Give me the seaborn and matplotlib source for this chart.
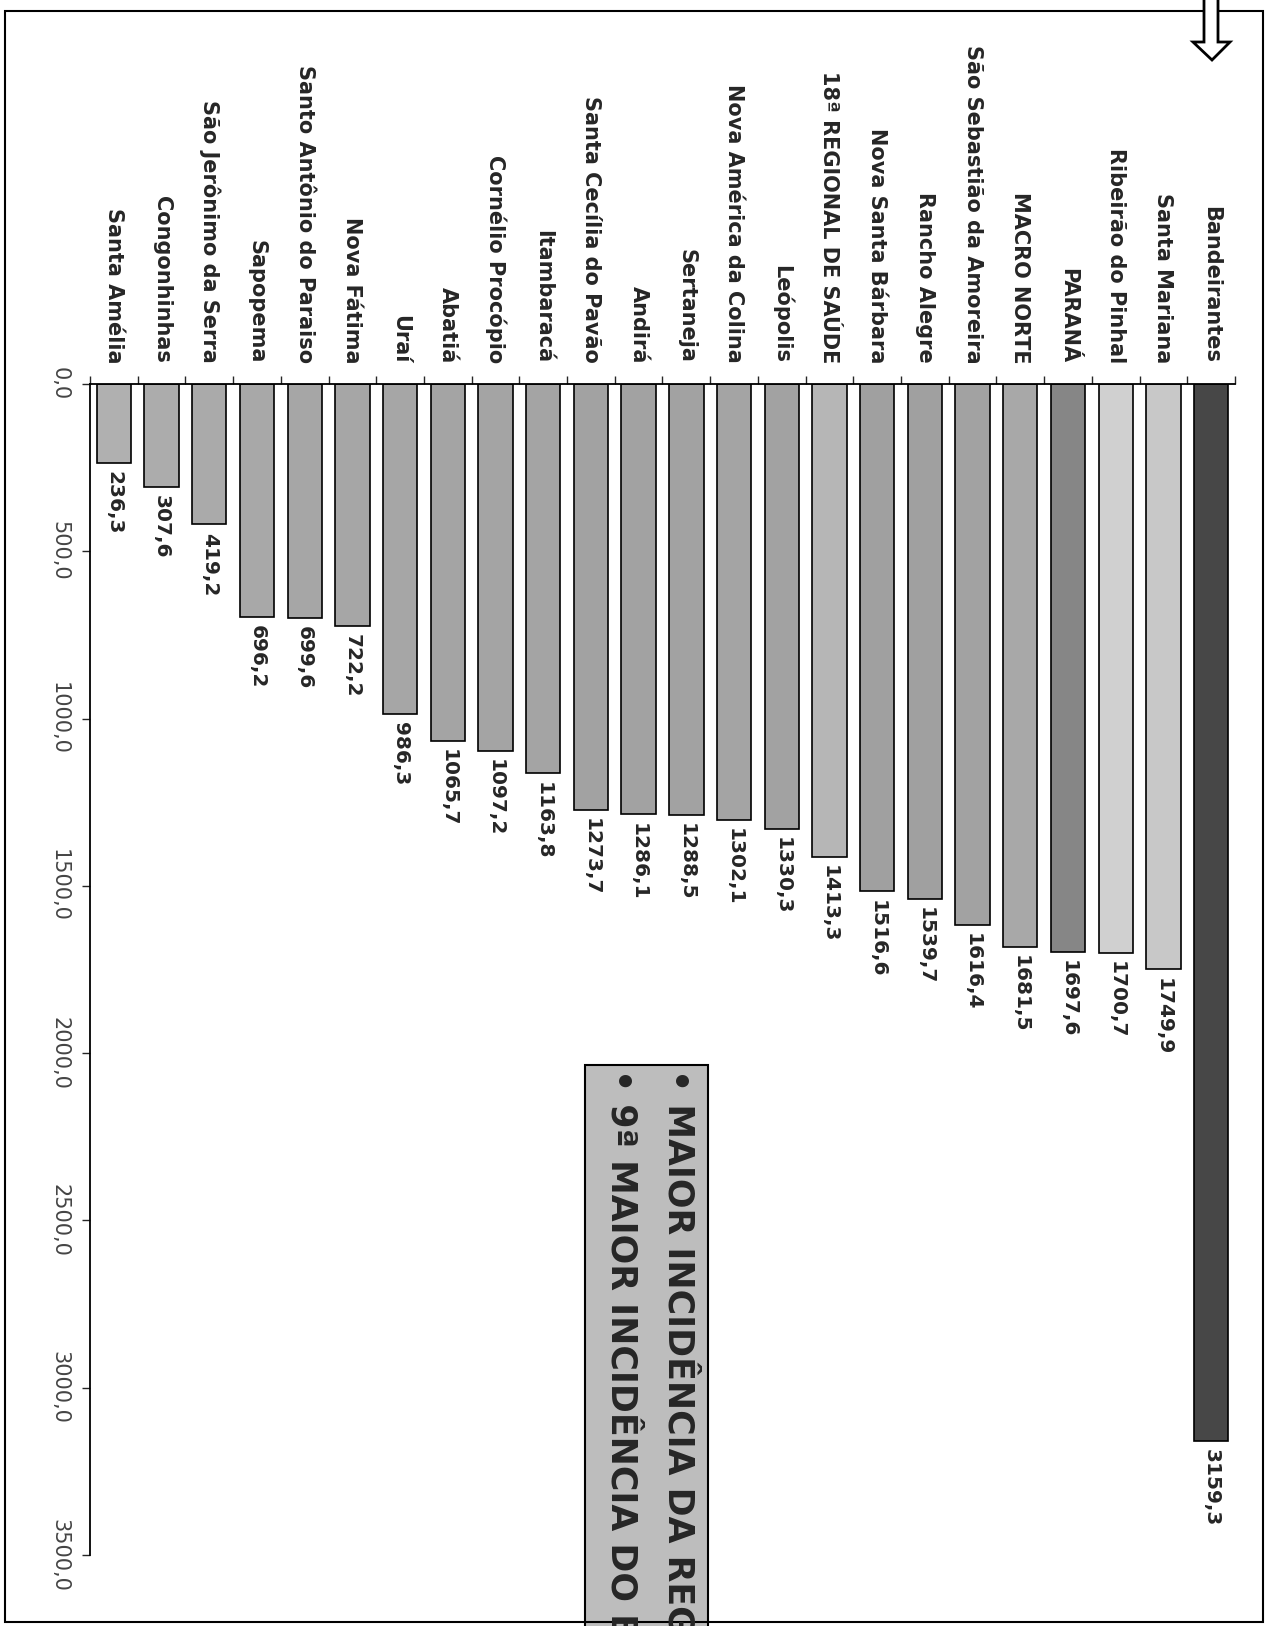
import numpy as np
import matplotlib
matplotlib.use("Agg")
import matplotlib.pyplot as plt
import matplotlib.patches as mpatches
from matplotlib.transforms import Affine2D
import seaborn as sns

sns.set_style("white")
plt.rcParams['font.family'] = ['DejaVu Sans']

# Data
municipios = ["Santa Amélia", "Congonhinhas", "São Jerônimo da Serra", "Sapopema",
              "Santo Antônio do Paraiso", "Nova Fátima", "Uraí", "Abatiá",
              "Cornélio Procópio", "Itambaracá", "Santa Cecília do Pavão", "Andirá",
              "Sertaneja", "Nova América da Colina", "Leópolis", "18ª REGIONAL DE SAÚDE",
              "Nova Santa Bárbara", "Rancho Alegre", "São Sebastião da Amoreira",
              "MACRO NORTE", "PARANÁ", "Ribeirão do Pinhal", "Santa Mariana", "Bandeirantes"]
incidencia = [236.3, 307.6, 419.2, 696.2, 699.6, 722.2, 986.3, 1065.7, 1097.2, 1163.8,
              1273.7, 1286.1, 1288.5, 1302.1, 1330.3, 1413.3, 1516.6, 1539.7, 1616.4,
              1681.5, 1697.6, 1700.7, 1749.9, 3159.3]
cores = ["#b0b0b0", "#acacac", "#aaaaaa", "#a8a8a8", "#a6a6a6", "#a6a6a6", "#a6a6a6", "#a4a4a4",
         "#a4a4a4", "#a4a4a4", "#a2a2a2", "#a2a2a2", "#a2a2a2", "#a4a4a4", "#a2a2a2", "#b6b6b6",
         "#a0a0a0", "#a0a0a0", "#a2a2a2", "#a8a8a8", "#868686", "#d0d0d0", "#c8c8c8", "#474747"]
valores_eixo = [0, 500, 1000, 1500, 2000, 2500, 3000, 3500]
destaque = ["• MAIOR INCIDÊNCIA DA REGIÃO", "• 9ª MAIOR INCIDÊNCIA DO ESTADO"]

W, H = 1267, 1626
fig = plt.figure(figsize=(W / 100, H / 100), dpi=100)
px = Affine2D().scale(1 / W, -1 / H).translate(0, 1) + fig.transFigure

# the chart is drawn turned a quarter turn: bars hang down from the top axis
ax = fig.add_axes([90 / W, 1 - 1555 / H, 1145 / W, (1555 - 384) / H])
sns.barplot(x=municipios, y=incidencia, hue=municipios, palette=cores, legend=False,
            width=0.72, edgecolor="black", linewidth=1.2, saturation=1, ax=ax)
ax.set_xlim(-0.5, len(municipios) - 0.5)
ax.set_ylim(3500, 0)
ax.set_xlabel("")
ax.set_ylabel("")

for s in ["right", "bottom"]:
    ax.spines[s].set_visible(False)
for s in ["top", "left"]:
    ax.spines[s].set_color("black")
    ax.spines[s].set_linewidth(1.3)

# category axis on top
ax.xaxis.tick_top()
ax.set_xticks(range(len(municipios)))
ax.set_xticklabels(municipios, rotation=-90, fontsize=15, fontweight="bold")
ax.set_xticks(np.arange(-0.5, len(municipios)), minor=True)
ax.tick_params(axis="x", which="major", length=0, pad=15)
ax.tick_params(axis="x", which="minor", length=6, width=1, direction="out", top=True, bottom=False)

# value axis
ax.set_yticks(valores_eixo)
ax.set_yticklabels([f"{v:.1f}".replace(".", ",") for v in valores_eixo],
                   rotation=-90, va="center", fontsize=15, color="#444444")
ax.tick_params(axis="y", length=6, width=1, direction="out", left=True, pad=9)

# value labels at the bar ends
for i, v in enumerate(incidencia):
    ax.annotate(f"{v:.1f}".replace(".", ","), (i, v), xytext=(0, -6),
                textcoords="offset points", rotation=-90, ha="center", va="top",
                fontsize=14.5, fontweight="bold")

# highlight box (cut off at the bottom of the page, as in the original)
fig.add_artist(mpatches.Rectangle((585, 1065), 123, 600, transform=px,
                                  facecolor="#bdbdbd", edgecolor="black", linewidth=1.5))
fig.text(678 / W, 1 - 1069 / H, destaque[0], rotation=-90, ha="center", va="top",
         fontsize=25, fontweight="bold")
fig.text(621 / W, 1 - 1069 / H, destaque[1], rotation=-90, ha="center", va="top",
         fontsize=25, fontweight="bold")

# page frame and the arrow at the top right
fig.add_artist(mpatches.Rectangle((5, 11), 1258, 1611, transform=px,
                                  facecolor="none", edgecolor="black", linewidth=1.5))
seta = [(1204, -5), (1218, -5), (1218, 42), (1230, 42), (1212, 60), (1193, 42), (1204, 42)]
fig.add_artist(mpatches.Polygon(seta, closed=True, transform=px,
                                facecolor="white", edgecolor="black", linewidth=2))

fig.savefig("out.png", dpi=100)
